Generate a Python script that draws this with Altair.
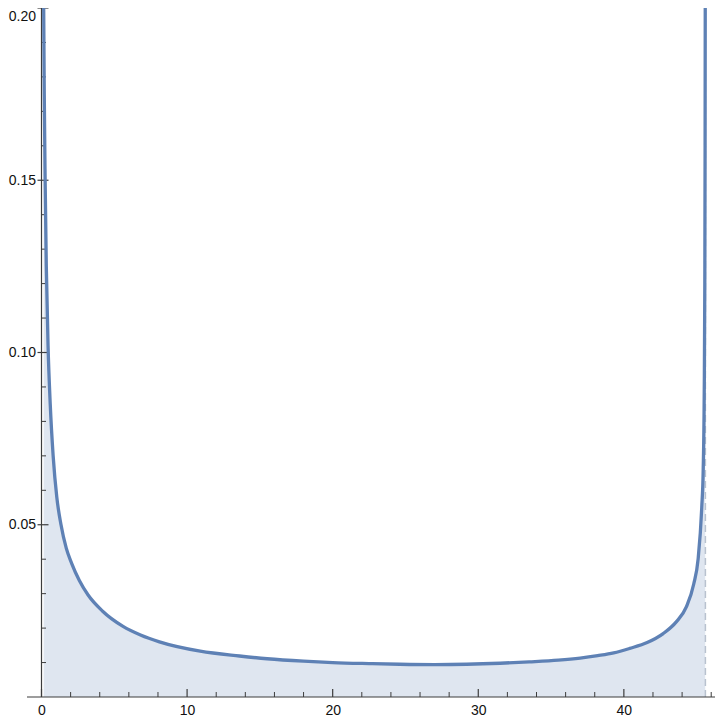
import altair as alt
import pandas as pd

# ---- data ----
curve_x = [0.15, 0.19, 0.25, 0.33, 0.45, 0.60, 0.80, 1.05, 1.34, 1.70, 2.07, 2.60,
           3.20, 4.20, 5.60, 6.80, 8.10, 10.9, 13.6, 15.5, 18.0, 20.0, 22.5, 24.6, 27.0,
           29.2, 31.5, 33.5, 35.5, 37.0, 38.2, 39.3, 40.4, 41.6, 42.7, 43.6, 44.3, 44.8,
           45.1, 45.35, 45.45, 45.52, 45.56, 45.58, 45.59]
curve_y = [0.200, 0.175, 0.150, 0.125, 0.102, 0.085, 0.070, 0.058, 0.050, 0.0432,
           0.0388, 0.0338, 0.0296, 0.0249, 0.0205, 0.0180, 0.0160, 0.0133, 0.0119, 0.0111,
           0.0104, 0.0100, 0.0097, 0.0095, 0.0094, 0.0095, 0.0098, 0.0102, 0.0107, 0.0113,
           0.0120, 0.0128, 0.0141, 0.0158, 0.0184, 0.0218, 0.0262, 0.0328, 0.0400, 0.0550,
           0.0660, 0.0880, 0.1200, 0.1600, 0.2000]
asymptote_x = [45.6]

x_major = [0, 10, 20, 30, 40]
x_minor = [2, 4, 6, 8, 12, 14, 16, 18, 22, 24, 26, 28, 32, 34, 36, 38, 42, 44, 46]
y_major = [0.05, 0.10, 0.15, 0.20]
y_minor = [0.01, 0.02, 0.03, 0.04, 0.06, 0.07, 0.08, 0.09, 0.11, 0.12, 0.13, 0.14,
           0.16, 0.17, 0.18, 0.19]

W = 673.5
H = 689
LINE = "#5E81B5"
AXC = "#3c3c3c"
FONT = "Liberation Sans"

curve = pd.DataFrame({"x": curve_x, "y": curve_y})
xs = alt.Scale(domain=[0, 46.26], nice=False, zero=False)
ys = alt.Scale(domain=[0, 0.2], nice=False, zero=False)

xaxis = alt.Axis(values=x_major, format="d", ticks=False, tickSize=0, domain=False,
                 grid=False, labelPadding=6, labelFlush=False, labelFont=FONT,
                 labelFontSize=14, labelColor="#111111", zindex=1, title=None)
yaxis = alt.Axis(values=y_major, format=".2f", ticks=False, tickSize=0, domain=False,
                 grid=False, labelPadding=6, labelFlush=False, labelFont=FONT,
                 labelFontSize=14, labelColor="#111111", zindex=1, title=None,
                 labelOffset={"condition": {"test": "datum.value >= 0.199", "value": 8},
                              "value": 0})

area = alt.Chart(curve).mark_area(color=LINE, opacity=0.2, interpolate="monotone").encode(
    x=alt.X("x:Q", scale=xs, axis=xaxis, title=None),
    y=alt.Y("y:Q", scale=ys, axis=yaxis, title=None),
    y2=alt.datum(0),
)

dash = alt.Chart(pd.DataFrame({"x": asymptote_x})).mark_rule(
    color="#b9c2cf", strokeWidth=1.5, strokeDash=[7, 4]
).encode(x=alt.X("x:Q", scale=xs, axis=xaxis, title=None), y=alt.datum(0), y2=alt.datum(0.2))

line = alt.Chart(curve).mark_line(color=LINE, strokeWidth=3.3, interpolate="monotone").encode(
    x=alt.X("x:Q", scale=xs, axis=xaxis, title=None),
    y=alt.Y("y:Q", scale=ys, axis=yaxis, title=None),
)

xaxis_line = alt.Chart(pd.DataFrame({"a": [0]})).mark_rule(color=AXC, strokeWidth=1.2).encode(
    x=alt.value(-14.5), x2=alt.value(W), y=alt.value(H))
yaxis_line = alt.Chart(pd.DataFrame({"a": [0]})).mark_rule(color=AXC, strokeWidth=1.2).encode(
    x=alt.value(0), y=alt.value(0), y2=alt.value(H))

xmaj = alt.Chart(pd.DataFrame({"t": x_major})).mark_rule(color=AXC, strokeWidth=1.2).encode(
    x=alt.X("t:Q", scale=xs, axis=xaxis, title=None), y=alt.value(H), y2=alt.value(H - 8))
xmin = alt.Chart(pd.DataFrame({"t": x_minor})).mark_rule(color=AXC, strokeWidth=1).encode(
    x=alt.X("t:Q", scale=xs, axis=xaxis, title=None), y=alt.value(H), y2=alt.value(H - 5))
ymaj = alt.Chart(pd.DataFrame({"t": y_major})).mark_rule(color=AXC, strokeWidth=1.2).encode(
    y=alt.Y("t:Q", scale=ys, axis=yaxis, title=None), x=alt.value(-4), x2=alt.value(7))
ymin = alt.Chart(pd.DataFrame({"t": y_minor})).mark_rule(color=AXC, strokeWidth=1).encode(
    y=alt.Y("t:Q", scale=ys, axis=yaxis, title=None), x=alt.value(0), x2=alt.value(4.5))

chart = alt.layer(area, dash, xaxis_line, yaxis_line, xmaj, xmin, ymaj, ymin, line).properties(
    width=W, height=H,
    autosize=alt.AutoSizeParams(type="none"),
    padding={"left": 33.5, "top": 0, "right": 0, "bottom": 20},
).configure_view(stroke=None)

chart.save("out.html", embed_options={"renderer": "svg", "actions": False})
